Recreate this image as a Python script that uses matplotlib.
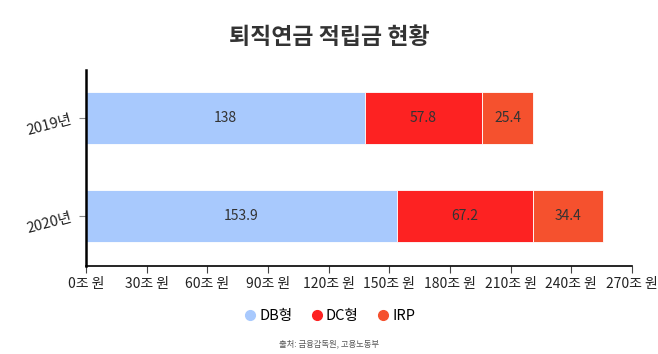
import matplotlib.pyplot as plt
import numpy as np

plt.rcParams['font.family'] = ['Noto Sans CJK KR', 'DejaVu Sans']

years = ["2019년", "2020년"]
db = [138, 153.9]
dc = [57.8, 67.2]
irp = [25.4, 34.4]
xticks = [0, 30, 60, 90, 120, 150, 180, 210, 240, 270]

colors = ["#a8c9fd", "#fd2222", "#f5512e"]
names = ["DB형", "DC형", "IRP"]

fig = plt.figure(figsize=(6.58, 3.54), dpi=100)
ax = fig.add_axes([0.1307, 0.2486, 0.8298, 0.5537])

y = np.arange(len(years))
left = np.zeros(len(years))
for vals, c, n in zip([db, dc, irp], colors, names):
    bars = ax.barh(y, vals, left=left, height=0.53, color=c, label=n,
                   edgecolor="white", linewidth=0.6)
    for b, v in zip(bars, vals):
        ax.text(b.get_x() + b.get_width() / 2, b.get_y() + b.get_height() / 2,
                f"{v:g}", ha="center", va="center", fontsize=10, color="#333333")
    left += np.array(vals)

ax.set_xlim(0, 270)
ax.set_ylim(1.51, -0.49)
ax.set_xticks(xticks)
ax.set_xticklabels([f"{t}조 원" for t in xticks], fontsize=10, color="#222222",
                   fontweight="medium")
ax.set_yticks(y)
ax.set_yticklabels(years, fontsize=10.5, rotation=15, color="#222222",
                   fontweight="medium")
ax.tick_params(axis="x", length=5, color="#444444", pad=3)
ax.tick_params(axis="y", length=5, color="#888888", pad=4)
for s in ["top", "right"]:
    ax.spines[s].set_visible(False)
ax.spines["left"].set_linewidth(1.8)
ax.spines["bottom"].set_linewidth(1.2)

fig.text(0.5, 0.895, "퇴직연금 적립금 현황", ha="center", va="center",
         fontsize=16.5, fontweight="bold", color="#333333")

handles = [plt.Line2D([], [], marker="o", linestyle="", markersize=7,
                      markerfacecolor=c, markeredgecolor=c) for c in colors]
fig.legend(handles, names, loc="center", bbox_to_anchor=(0.5, 0.107), ncol=3,
           frameon=False, fontsize=10.5, handletextpad=0.1, columnspacing=1.2,
           handlelength=1.0)

fig.text(0.5, 0.03, "출처: 금융감독원, 고용노동부", ha="center", va="center",
         fontsize=6, color="#555555")

fig.savefig("out.png", dpi=100)
